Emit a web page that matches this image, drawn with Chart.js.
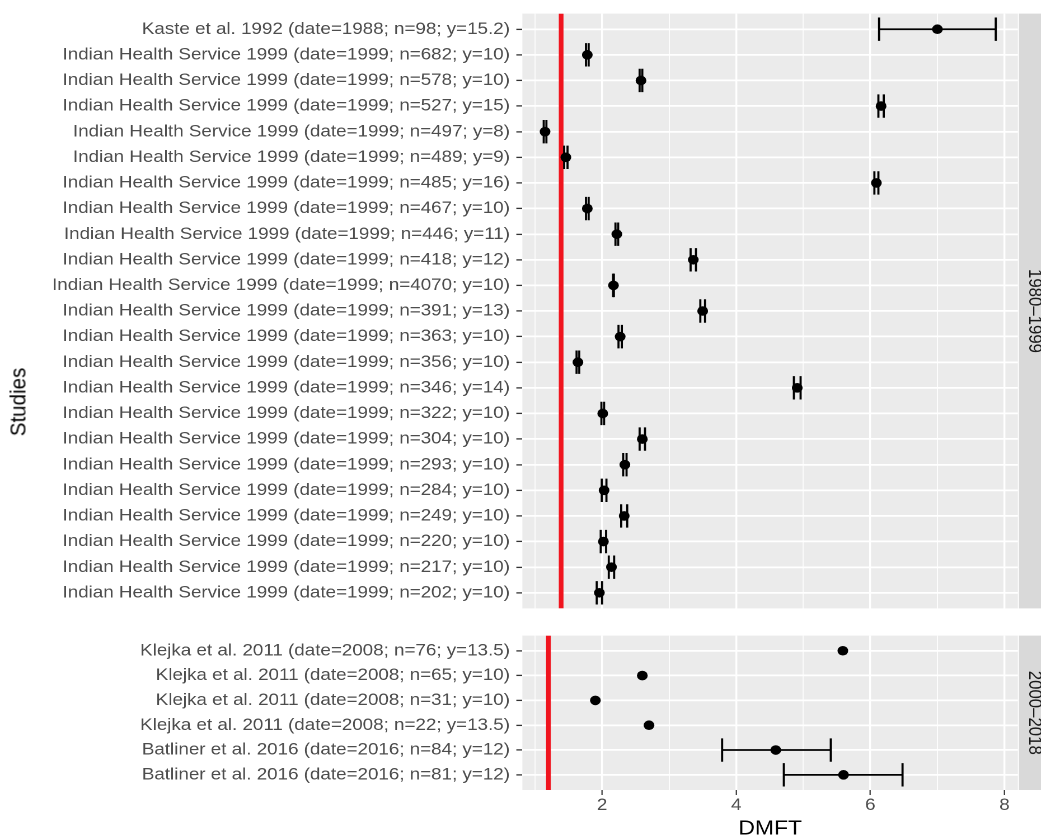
<!DOCTYPE html>
<html>
<head>
<meta charset="utf-8">
<script src="https://cdn.jsdelivr.net/npm/chart.js@4.4.1/dist/chart.umd.min.js"></script>
<style>
  html, body { margin: 0; padding: 0; background: #ffffff; overflow: hidden; width: 1041px; height: 836px; }
  body { position: relative; }
  #clip { position: absolute; left: 0; top: 0; width: 1041px; height: 836px; overflow: hidden; }
  #stretch { position: absolute; left: 0; top: 0; width: 930px; height: 836px; overflow: hidden;
             transform: scaleX(1.1193); transform-origin: 0 0; }
  #topBox { position: absolute; left: 0; top: 0; width: 930px; height: 622px; }
  #botBox { position: absolute; left: 0; top: 622px; width: 930px; height: 230px; }
  #ytitle { position: absolute; left: 16px; top: 401.7px; transform: translate(-50%, -50%) rotate(-90deg);
            font-family: "Liberation Sans", Arial, sans-serif; font-size: 20.5px; color: #000; white-space: nowrap; }
</style>
</head>
<body>
<div id="clip">
<div id="stretch">
  <div id="topBox"><canvas id="topChart"></canvas></div>
  <div id="botBox"><canvas id="botChart"></canvas></div>
  <div id="ytitle">Studies</div>
</div>
</div>
<script>
// ---------- DATA ----------
const topLabels = [
  "Kaste et al. 1992 (date=1988; n=98; y=15.2)",
  "Indian Health Service 1999 (date=1999; n=682; y=10)",
  "Indian Health Service 1999 (date=1999; n=578; y=10)",
  "Indian Health Service 1999 (date=1999; n=527; y=15)",
  "Indian Health Service 1999 (date=1999; n=497; y=8)",
  "Indian Health Service 1999 (date=1999; n=489; y=9)",
  "Indian Health Service 1999 (date=1999; n=485; y=16)",
  "Indian Health Service 1999 (date=1999; n=467; y=10)",
  "Indian Health Service 1999 (date=1999; n=446; y=11)",
  "Indian Health Service 1999 (date=1999; n=418; y=12)",
  "Indian Health Service 1999 (date=1999; n=4070; y=10)",
  "Indian Health Service 1999 (date=1999; n=391; y=13)",
  "Indian Health Service 1999 (date=1999; n=363; y=10)",
  "Indian Health Service 1999 (date=1999; n=356; y=10)",
  "Indian Health Service 1999 (date=1999; n=346; y=14)",
  "Indian Health Service 1999 (date=1999; n=322; y=10)",
  "Indian Health Service 1999 (date=1999; n=304; y=10)",
  "Indian Health Service 1999 (date=1999; n=293; y=10)",
  "Indian Health Service 1999 (date=1999; n=284; y=10)",
  "Indian Health Service 1999 (date=1999; n=249; y=10)",
  "Indian Health Service 1999 (date=1999; n=220; y=10)",
  "Indian Health Service 1999 (date=1999; n=217; y=10)",
  "Indian Health Service 1999 (date=1999; n=202; y=10)"
];
const topMean = [7.00, 1.78, 2.58, 6.16, 1.15, 1.46, 6.09, 1.78, 2.22, 3.36, 2.17, 3.50,
                 2.27, 1.64, 4.91, 2.01, 2.60, 2.34, 2.03, 2.33, 2.02, 2.14, 1.96];
const topLow  = [6.13, 1.76, 2.56, 6.12, 1.13, 1.435, 6.06, 1.76, 2.20, 3.32, 2.164, 3.465,
                 2.245, 1.62, 4.86, 1.99, 2.56, 2.315, 1.995, 2.285, 1.98, 2.10, 1.92];
const topHigh = [7.87, 1.80, 2.60, 6.20, 1.17, 1.485, 6.12, 1.80, 2.24, 3.40, 2.176, 3.535,
                 2.295, 1.66, 4.96, 2.03, 2.64, 2.365, 2.065, 2.375, 2.06, 2.18, 2.00];

const bottomLabels = [
  "Klejka et al. 2011 (date=2008; n=76; y=13.5)",
  "Klejka et al. 2011 (date=2008; n=65; y=10)",
  "Klejka et al. 2011 (date=2008; n=31; y=10)",
  "Klejka et al. 2011 (date=2008; n=22; y=13.5)",
  "Batliner et al. 2016 (date=2016; n=84; y=12)",
  "Batliner et al. 2016 (date=2016; n=81; y=12)"
];
const bottomMean = [5.59, 2.60, 1.90, 2.70, 4.59, 5.60];
const bottomLow  = [null, null, null, null, 3.79, 4.71];
const bottomHigh = [null, null, null, null, 5.41, 6.48];

const refLines   = [1.39, 1.20];          // red reference line per facet
const facetNames = ["1980\u20131999", "2000\u20132018"];
const xGridValues = [1, 2, 3, 4, 5, 6, 7, 8];
const xTickLabels = [2, 4, 6, 8];
const xMin = 0.812, xMax = 8.2;
const yExpand = 0.61;
const xTitle = "DMFT";

// ---------- STYLE ----------
const FONT = '"Liberation Sans", Arial, Helvetica, sans-serif';
const AXIS_W = 466.7;

const panelPlugin = {
  id: 'panel',
  beforeDraw(chart) {
    const a = chart.chartArea, c = chart.ctx;
    c.save(); c.fillStyle = '#EBEBEB';
    c.fillRect(a.left, a.top, a.right - a.left, a.bottom - a.top);
    c.restore();
  },
  afterDraw(chart, args, opts) {
    const a = chart.chartArea, c = chart.ctx;
    c.save();
    c.fillStyle = '#D9D9D9';
    c.fillRect(a.right + 0.9, a.top, chart.width - a.right - 0.9, a.bottom - a.top);
    c.translate(924, (a.top + a.bottom) / 2);
    c.rotate(Math.PI / 2);
    c.fillStyle = '#1A1A1A';
    c.font = '16.8px ' + FONT;
    c.textAlign = 'center'; c.textBaseline = 'middle';
    c.fillText(opts.text, 0, 0);
    c.restore();
  }
};

function buildChart(canvasId, labels, mean, low, high, ref, facet, isBottom) {
  const n = labels.length;
  const yMin = -yExpand, yMax = n - 1 + yExpand;
  const pts = mean.map((v, i) => ({ x: v, y: i }));
  const caps = [];
  const bars = [];
  low.forEach((lo, i) => {
    if (lo === null) return;
    caps.push({ x: lo, y: i }, { x: high[i], y: i });
    bars.push({ x: lo, y: i }, { x: high[i], y: i }, { x: null, y: null });
  });
  const refData = [{ x: ref, y: yMin }, { x: ref, y: yMax }];

  return new Chart(document.getElementById(canvasId), {
    type: 'scatter',
    data: {
      datasets: [
        { data: refData, showLine: true, borderColor: '#F0141E', borderWidth: 4.2,
          pointRadius: 0, order: 10 },
        { data: bars, showLine: true, borderColor: '#000', borderWidth: 1.7,
          pointRadius: 0, spanGaps: false, order: 5 },
        { data: caps, pointStyle: 'line', rotation: 90, pointRadius: 11.7,
          borderColor: '#000', borderWidth: 1.9, order: 4 },
        { data: pts, pointStyle: 'circle', pointRadius: 4.8, backgroundColor: '#000',
          borderWidth: 0, order: 1 }
      ]
    },
    options: {
      responsive: true, maintainAspectRatio: false, animation: false,
      devicePixelRatio: 2,
      layout: { padding: { left: 0, right: 20.6, top: isBottom ? 6.3 : 13.3, bottom: isBottom ? 0 : 4.7 } },
      plugins: { legend: { display: false }, tooltip: { enabled: false }, panel: { text: facet } },
      elements: { point: { hoverRadius: 4.8 } },
      scales: {
        x: {
          type: 'linear', min: xMin, max: xMax, position: 'bottom',
          afterBuildTicks: s => { s.ticks = xGridValues.map(v => ({ value: v })); },
          afterFit: s => {
            s.height = isBottom ? 62 : 0;
            s.paddingLeft = 0; s.paddingRight = 0; s.paddingTop = 0; s.paddingBottom = 0;
          },
          border: { display: false },
          grid: {
            color: '#FFFFFF',
            lineWidth: c => (c.tick && xTickLabels.includes(c.tick.value)) ? 1.7 : 0.85,
            drawTicks: isBottom, tickLength: 5,
            tickColor: c => (c.tick && xTickLabels.includes(c.tick.value)) ? '#333333' : 'rgba(0,0,0,0)',
            tickWidth: 1.1
          },
          ticks: {
            display: isBottom, autoSkip: false, maxRotation: 0, padding: 0.2,
            color: '#4D4D4D', font: { family: FONT, size: 16.8 },
            callback: v => xTickLabels.includes(v) ? String(v) : ''
          },
          title: { display: isBottom, text: xTitle, color: '#000',
                   font: { family: FONT, size: 20.5 }, padding: { top: 0, bottom: 10.7 } }
        },
        y: {
          type: 'linear', reverse: true, min: yMin, max: yMax,
          afterBuildTicks: s => { s.ticks = labels.map((_, i) => ({ value: i })); },
          afterFit: s => {
            s.width = AXIS_W;
            s.paddingTop = 0; s.paddingBottom = 0; s.paddingLeft = 0; s.paddingRight = 0;
          },
          border: { display: false },
          grid: { color: '#FFFFFF', lineWidth: 1.8, tickLength: 5.4, tickColor: '#333333', tickWidth: 1.3 },
          ticks: {
            autoSkip: false, padding: 5.7, color: '#4D4D4D',
            font: { family: FONT, size: 16.8 },
            callback: v => labels[v]
          }
        }
      }
    },
    plugins: [panelPlugin]
  });
}

buildChart('topChart', topLabels, topMean, topLow, topHigh, refLines[0], facetNames[0], false);
buildChart('botChart', bottomLabels, bottomMean, bottomLow, bottomHigh, refLines[1], facetNames[1], true);
</script>
</body>
</html>
